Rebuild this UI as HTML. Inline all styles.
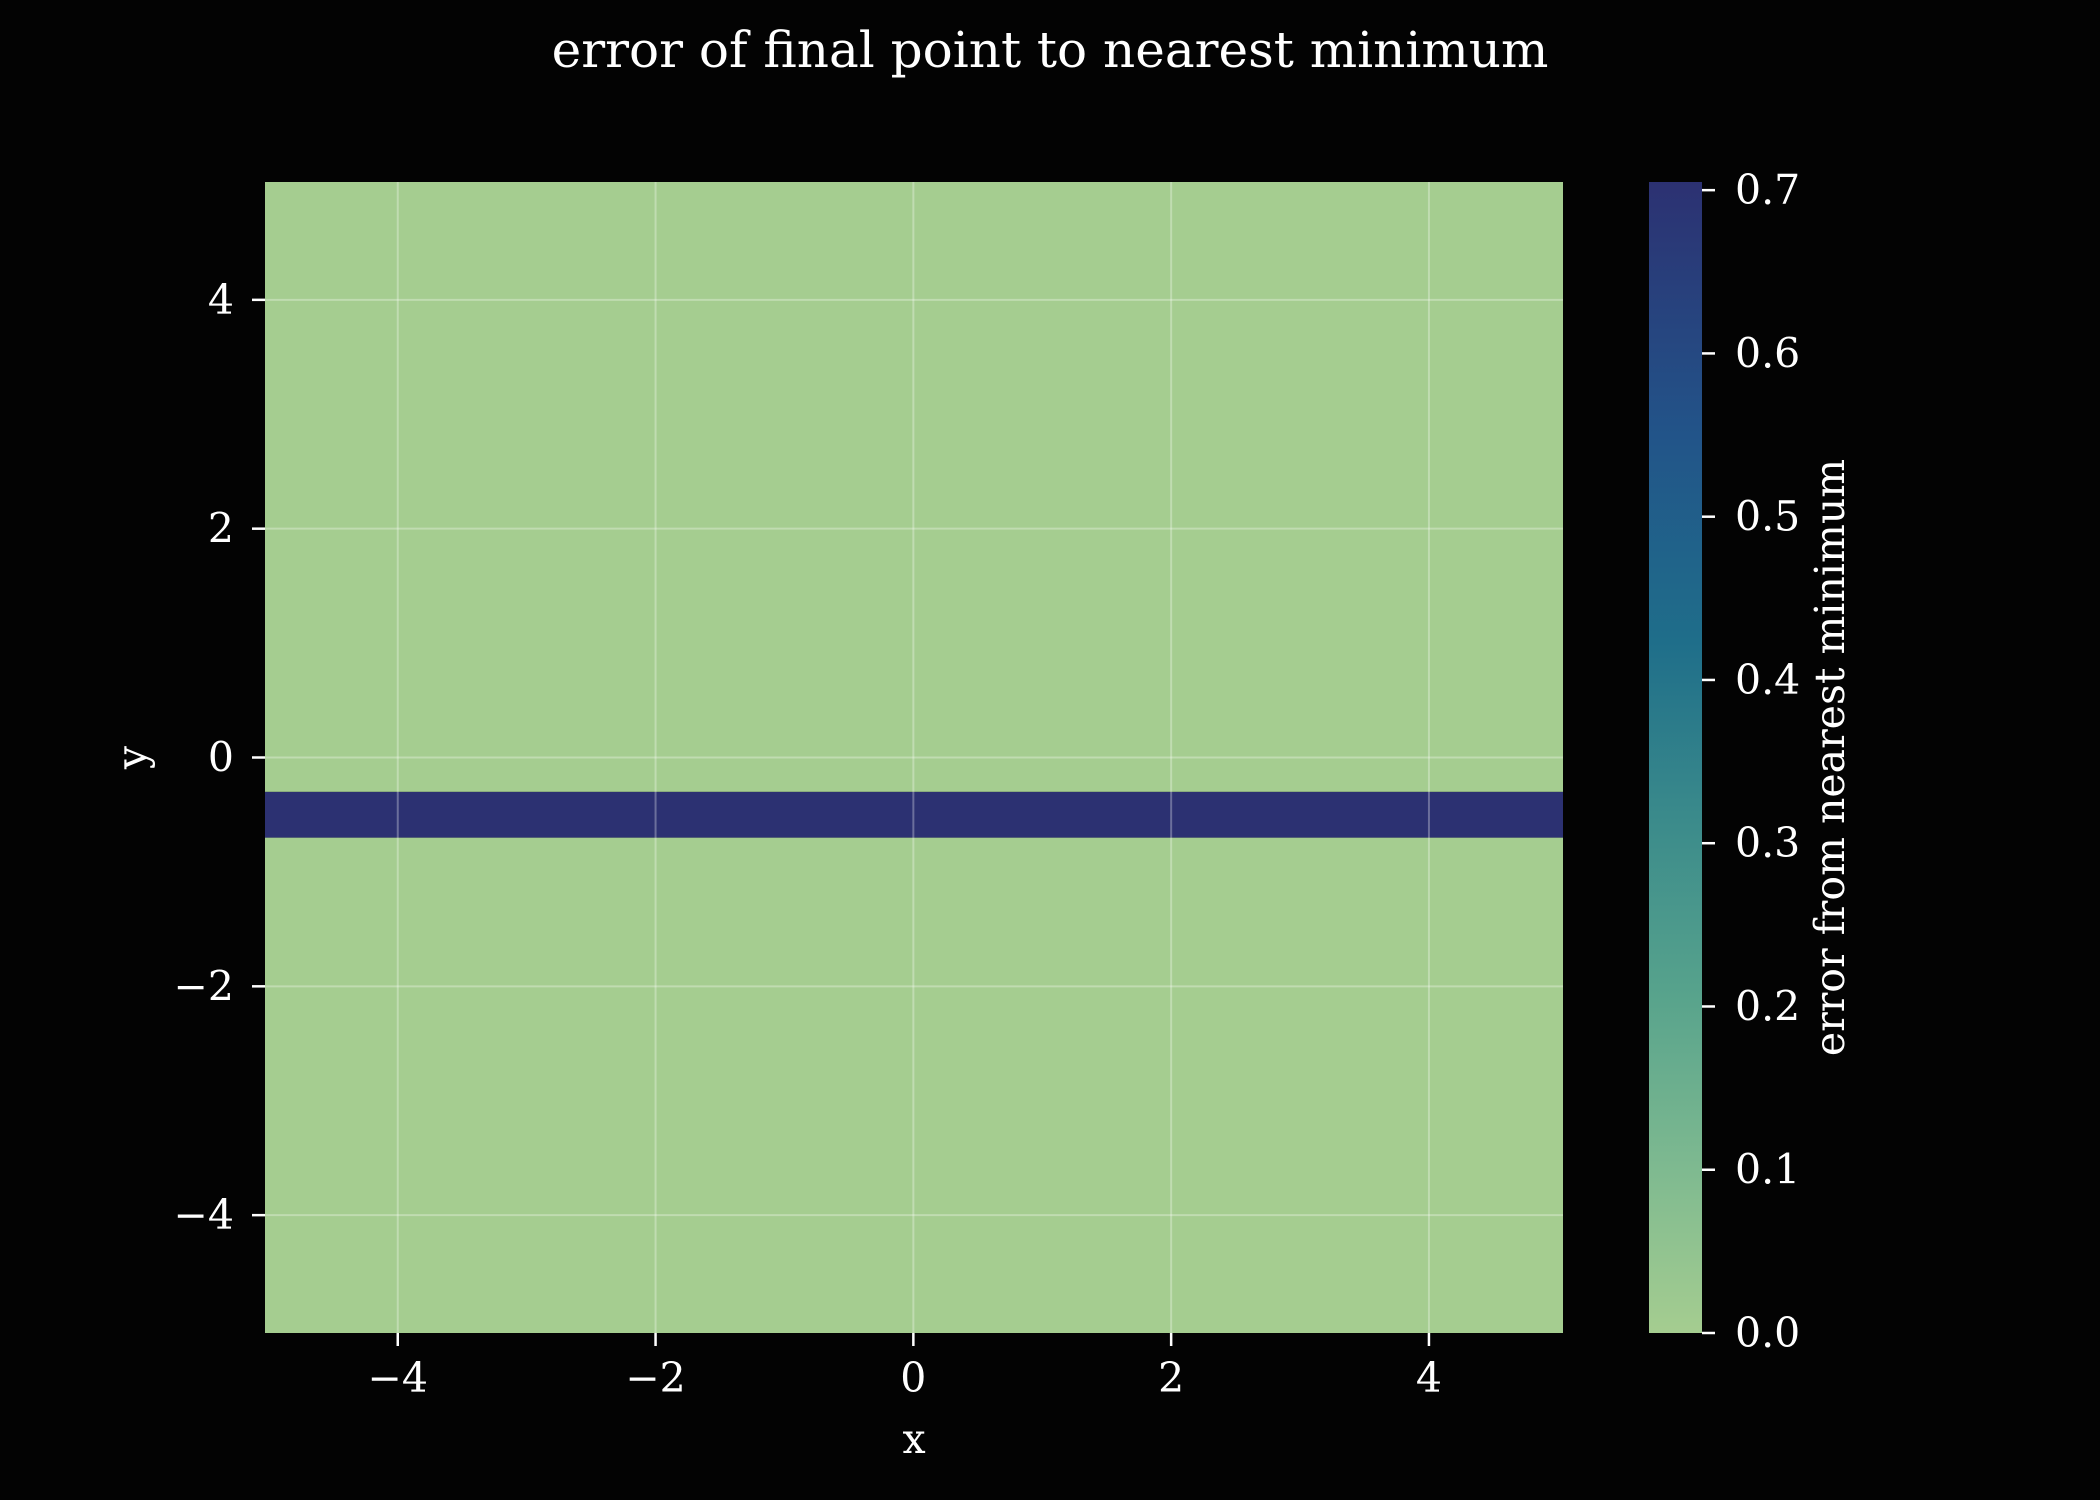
<!DOCTYPE html>
<html><head><meta charset="utf-8"><style>
html,body{margin:0;padding:0;background:#030303;}
svg{display:block;font-family:"DejaVu Serif","Liberation Serif",serif;}
</style></head><body>
<svg id="chart" width="2100" height="1500" viewBox="0 0 2100 1500">
<defs>
<linearGradient id="crest" x1="0" y1="1" x2="0" y2="0">
<stop offset="0" stop-color="#a5cd90"/>
<stop offset="0.14" stop-color="#7fba90"/>
<stop offset="0.3" stop-color="#56a28c"/>
<stop offset="0.45" stop-color="#3a8a8b"/>
<stop offset="0.6" stop-color="#1f6e8a"/>
<stop offset="0.78" stop-color="#225489"/>
<stop offset="1" stop-color="#2c3172"/>
</linearGradient>
</defs>
<text x="1050" y="67" fill="#fff" font-size="50" text-anchor="middle">error of final point to nearest minimum</text>
<g id="plot"></g>
<g id="cbar"></g>
</svg>
<script>
const xTicks=[-4,-2,0,2,4];
const yTicks=[-4,-2,0,2,4];
const rowEdges=[-5.03,-0.70,-0.30,5.03];
const rowValues=[0.0,0.707,0.0];
const cbarTicks=[0.0,0.1,0.2,0.3,0.4,0.5,0.6,0.7];
const cbarMax=0.705;

const NS="http://www.w3.org/2000/svg";
const L=265,R=1563,T=182,B=1333,xmin=-5.03,xmax=5.04,ymin=-5.03,ymax=5.03;
const FS=41;
const sx=v=>L+(v-xmin)/(xmax-xmin)*(R-L);
const sy=v=>B-(v-ymin)/(ymax-ymin)*(B-T);
function mk(tag,attrs,parent,text){const e=document.createElementNS(NS,tag);for(const k in attrs)e.setAttribute(k,attrs[k]);if(text!==undefined)e.textContent=text;parent.appendChild(e);return e;}
const stops=[[0,[165,205,144]],[0.14,[127,186,144]],[0.3,[86,162,140]],[0.45,[58,138,139]],[0.6,[31,110,138]],[0.78,[34,84,137]],[1,[44,49,114]]];
function cmap(v){let t=Math.max(0,Math.min(1,v/cbarMax));for(let i=1;i<stops.length;i++){if(t<=stops[i][0]){const a=stops[i-1],b=stops[i];const f=(t-a[0])/(b[0]-a[0]);const c=a[1].map((x,j)=>Math.round(x+(b[1][j]-x)*f));return `rgb(${c})`;}}return 'rgb(44,49,114)';}
const plot=document.getElementById('plot');
for(let i=0;i<rowValues.length;i++){
  const y1=sy(rowEdges[i+1]),y0=sy(rowEdges[i]);
  const r=mk('rect',{x:L,y:y1,width:R-L,height:y0-y1,fill:cmap(rowValues[i])},plot);
  
  
}
xTicks.forEach(v=>{
  const g=mk('line',{x1:sx(v),x2:sx(v),y1:T,y2:B,stroke:'rgba(255,255,255,0.3)','stroke-width':2},plot);
  
  const t=mk('line',{x1:sx(v),x2:sx(v),y1:B,y2:B+13,stroke:'#fff','stroke-width':2.5},plot);
  
  const l=mk('text',{x:sx(v),y:B+59,fill:'#fff','font-size':FS,'text-anchor':'middle'},plot,v<0?'\u2212'+(-v):String(v));
  
});
yTicks.forEach(v=>{
  const g=mk('line',{x1:L,x2:R,y1:sy(v),y2:sy(v),stroke:'rgba(255,255,255,0.3)','stroke-width':2},plot);
  
  const t=mk('line',{x1:L-13,x2:L,y1:sy(v),y2:sy(v),stroke:'#fff','stroke-width':2.5},plot);
  
  const l=mk('text',{x:L-31,y:sy(v)+14,fill:'#fff','font-size':FS,'text-anchor':'end'},plot,v<0?'\u2212'+(-v):String(v));
  
});
const xl=mk('text',{x:(L+R)/2,y:1453,fill:'#fff','font-size':FS,'text-anchor':'middle'},plot,'x');

const yl=mk('text',{x:0,y:0,fill:'#fff','font-size':FS,'text-anchor':'middle',transform:`translate(146,${sy(0)}) rotate(-90)`},plot,'y');


const cb=document.getElementById('cbar');
const CL=1649,CR=1702;
const cy=v=>B-v/cbarMax*(B-T);
const bar=mk('rect',{x:CL,y:T,width:CR-CL,height:B-T,fill:'url(#crest)'},cb);

cbarTicks.forEach(v=>{
  const t=mk('line',{x1:CR,x2:CR+13,y1:cy(v),y2:cy(v),stroke:'#fff','stroke-width':2.5},cb);
  
  const l=mk('text',{x:CR+33,y:cy(v)+14,fill:'#fff','font-size':FS},cb,v.toFixed(1));
  
});
const cl=mk('text',{x:0,y:0,fill:'#fff','font-size':FS,'text-anchor':'middle',transform:`translate(1844,${(T+B)/2}) rotate(-90)`},cb,'error from nearest minimum');

</script>
</body></html>
